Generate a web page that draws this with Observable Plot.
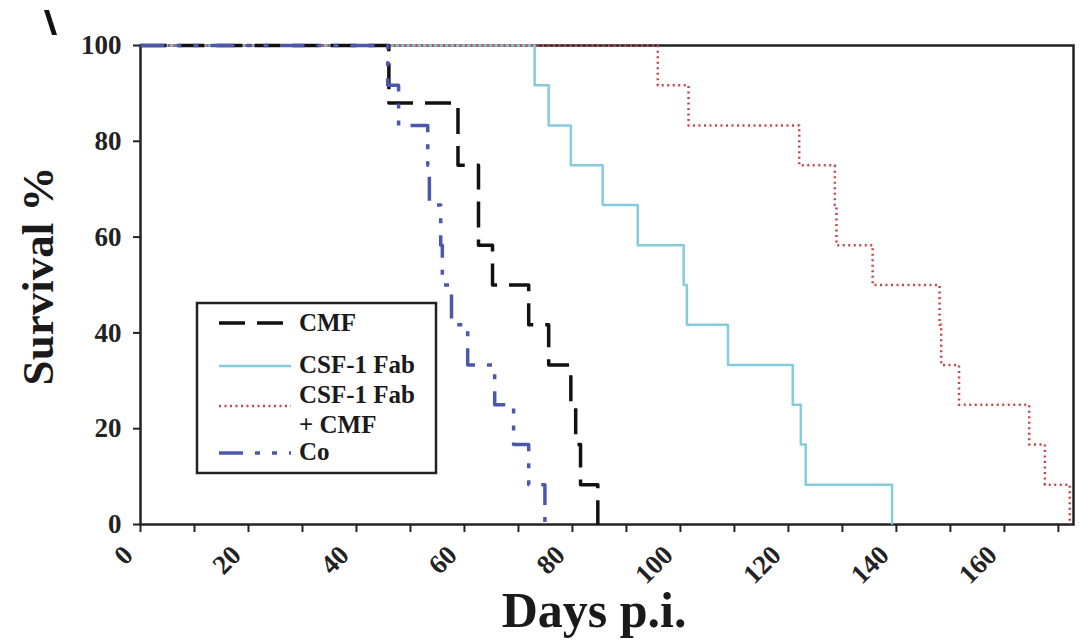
<!DOCTYPE html>
<html>
<head>
<meta charset="utf-8">
<script src="https://cdn.jsdelivr.net/npm/d3@7"></script>
<script src="https://cdn.jsdelivr.net/npm/@observablehq/plot@0.6"></script>
<style>
  html, body { margin: 0; padding: 0; background: #fff; }
  #wrap { position: relative; width: 1089px; height: 640px; overflow: hidden; }
  #overlay { position: absolute; left: 0; top: 0; pointer-events: none; }
</style>
</head>
<body>
<div id="wrap"></div>
<script>
// ---- Data ----
const seriesNames = ["CMF", "CSF-1 Fab", "CSF-1 Fab + CMF", "Co"];

const cmfDays = [0, 46.0, 58.8, 62.6, 65.2, 71.9, 75.6, 79.7, 80.6, 81.5, 84.7];
const cmfSurv = [100, 88, 75, 58.3, 50, 41.7, 33.3, 25, 16.7, 8.3, 0];

const fabDays = [0, 73.0, 75.6, 79.7, 85.6, 92.1, 100.6, 101.2, 108.8, 120.8, 122.3, 123.2, 139.2];
const fabSurv = [100, 91.7, 83.3, 75, 66.7, 58.3, 50, 41.7, 33.3, 25, 16.7, 8.3, 0];

const fabCmfDays = [0, 95.8, 101.5, 122.0, 128.6, 128.9, 135.6, 148.0, 148.3, 151.6, 164.6, 167.5, 172.1];
const fabCmfSurv = [100, 91.7, 83.3, 75, 66.7, 58.3, 50, 41.7, 33.3, 25, 16.7, 8.3, 0];

const coDays = [0, 45.8, 47.8, 53.2, 53.5, 55.6, 55.9, 57.6, 60.6, 65.6, 69.1, 71.9, 74.9];
const coSurv = [100, 91.7, 83.3, 75, 66.7, 58.3, 50, 41.7, 33.3, 25, 16.7, 8.3, 0];

const yTicks = [0, 20, 40, 60, 80, 100];
const xTickMarks = [0, 10, 20, 30, 40, 50, 60, 70, 80, 90, 100, 110, 120, 130, 140, 150, 160, 170];
const xTickLabels = [0, 20, 40, 60, 80, 100, 120, 140, 160];
const xMax = 172.8;

const xLabel = "Days p.i.";
const yLabel = "Survival %";

// ---- Styles ----
const styles = {
  "CMF": {stroke: "#111", strokeWidth: 3.5, dash: "26,12"},
  "CSF-1 Fab": {stroke: "#86cbdc", strokeWidth: 2.5, dash: null},
  "CSF-1 Fab + CMF": {stroke: "#c8454a", strokeWidth: 2.5, dash: "2,3.5"},
  "Co": {stroke: "#4b57ad", strokeWidth: 3.5, dash: "24,12,5,12,5,12"}
};

const toRows = (days, surv) => days.map((d, i) => ({day: d, surv: surv[i]}));
const rows = {
  "CMF": toRows(cmfDays, cmfSurv),
  "CSF-1 Fab": toRows(fabDays, fabSurv),
  "CSF-1 Fab + CMF": toRows(fabCmfDays, fabCmfSurv),
  "Co": toRows(coDays, coSurv)
};

const font = "'Liberation Serif', 'Times New Roman', serif";
const drawOrder = ["CSF-1 Fab", "CSF-1 Fab + CMF", "CMF", "Co"];

const lineMarks = drawOrder.map(name => Plot.line(rows[name], {
  x: "day", y: "surv", curve: "step-after",
  stroke: styles[name].stroke,
  strokeWidth: styles[name].strokeWidth,
  strokeDasharray: styles[name].dash,
  strokeLinecap: "butt"
}));

const chart = Plot.plot({
  width: 1089,
  height: 640,
  marginLeft: 140,
  marginRight: 16,
  marginTop: 45,
  marginBottom: 116,
  style: {fontFamily: font, fontWeight: "bold", background: "#fff", color: "#222"},
  x: {domain: [0, xMax]},
  y: {domain: [0, 100]},
  marks: [
    Plot.axisY({ticks: yTicks, tickSize: 7, tickPadding: 12, fontSize: 27, label: null, strokeWidth: 2, stroke: "#222", fill: "#222"}),
    Plot.axisX({ticks: xTickMarks, tickSize: 8, tickFormat: () => "", label: null, strokeWidth: 2, stroke: "#222"}),
    Plot.axisX({ticks: xTickLabels, tickSize: 0, tickRotate: -45, tickPadding: 26, dx: -12, fontSize: 27, label: null, fill: "#222"}),
    Plot.frame({stroke: "#222", strokeWidth: 2.5}),
    ...lineMarks,
    Plot.text([xLabel], {frameAnchor: "bottom", dx: -13, dy: 102, lineAnchor: "bottom", fontSize: 50, fontWeight: "bold", fill: "#1a1a1a", text: d => d})
  ]
});

const wrap = document.getElementById("wrap");
wrap.appendChild(chart);

// ---- Overlay: y-axis title and legend ----
const svg = d3.select(wrap).append("svg")
  .attr("id", "overlay")
  .attr("width", 1089).attr("height", 640)
  .style("font-family", font).style("font-weight", "bold");

svg.append("text")
  .attr("transform", "translate(53,276) rotate(-90)")
  .attr("text-anchor", "middle")
  .attr("font-size", 45).attr("fill", "#1a1a1a")
  .text(yLabel);

svg.append("rect")
  .attr("x", 197).attr("y", 303).attr("width", 239).attr("height", 170)
  .attr("fill", "#fff").attr("stroke", "#222").attr("stroke-width", 2.5);

const legendItems = [
  {name: "CMF", lineY: 323, labels: ["CMF"], baseY: [331]},
  {name: "CSF-1 Fab", lineY: 366, labels: ["CSF-1 Fab"], baseY: [373]},
  {name: "CSF-1 Fab + CMF", lineY: 406, labels: ["CSF-1 Fab", "+ CMF"], baseY: [403, 433]},
  {name: "Co", lineY: 453, labels: ["Co"], baseY: [460]}
];

legendItems.forEach(item => {
  const s = styles[item.name];
  svg.append("line")
    .attr("x1", 219).attr("x2", 291).attr("y1", item.lineY).attr("y2", item.lineY)
    .attr("stroke", s.stroke).attr("stroke-width", s.strokeWidth)
    .attr("stroke-dasharray", s.dash);
  item.labels.forEach((t, i) => {
    svg.append("text").attr("x", 299).attr("y", item.baseY[i])
      .attr("font-size", 25).attr("fill", "#1a1a1a").text(t);
  });
});

// fragment of the cropped panel letter at the top-left edge
svg.append("path")
  .attr("d", "M44,10 L49,10 L57,35 L52,35 Z")
  .attr("fill", "#111");
</script>
</body>
</html>
